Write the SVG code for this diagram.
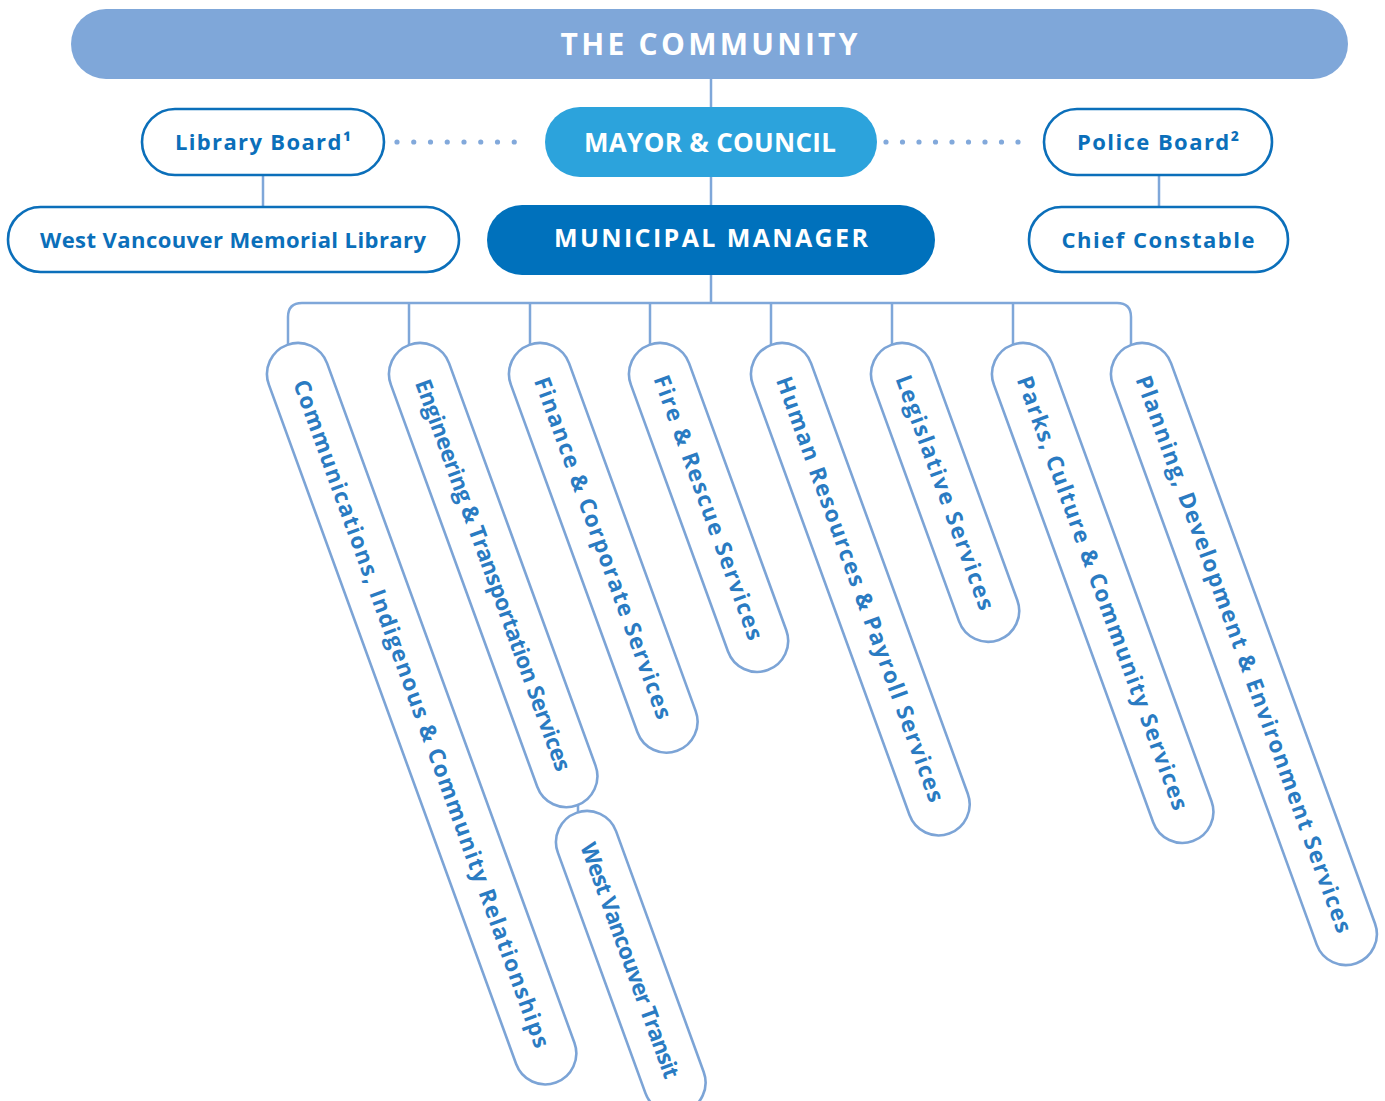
<svg xmlns="http://www.w3.org/2000/svg" width="1385" height="1101" viewBox="0 0 1385 1101">
<style>
  .bg { fill: #ffffff; }
  .conn { fill: none; stroke: #7fa7d9; stroke-width: 2.5; }
  .dots { fill: none; stroke: #82a9db; stroke-width: 5.2; stroke-linecap: round; }
  .outline { fill: #ffffff; stroke: #0b6fba; stroke-width: 2.6; }
  .outtxt { fill: #0b6fba; font-family: "Open Sans", "DejaVu Sans", sans-serif; font-weight: 700; font-size: 22px; text-anchor: middle; }
  .filltxt { fill: #ffffff; font-family: "Open Sans", "DejaVu Sans", sans-serif; font-weight: 700; text-anchor: middle; }
  .pill { fill: #ffffff; stroke: #7ca4d6; stroke-width: 2.6; }
  .ptxt { fill: #2a7bc2; font-family: "Open Sans", "DejaVu Sans", sans-serif; font-weight: 700; font-size: 22.5px; text-anchor: middle; }
</style>
<rect class="bg" x="0" y="0" width="1385" height="1101"/>

<g id="connectors">
  <path class="conn" d="M711,79 V303"/>
  <path class="conn" d="M288,345 V317 Q288,303 302,303 H1117 Q1131,303 1131,317 V345"/>
  <path class="conn" d="M409,303 V345 M530,303 V345 M650,303 V345 M771,303 V345 M892,303 V345 M1013,303 V345"/>
  <path class="conn" d="M263,176 V207"/>
  <path class="conn" d="M1159,176 V207"/>
  <path class="conn" d="M578,804 V813"/>
  <line class="dots" x1="397" y1="142" x2="531" y2="142" stroke-dasharray="0 16.75"/>
  <line class="dots" x1="886" y1="142" x2="1034.5" y2="142" stroke-dasharray="0 16.5"/>
</g>

<g id="community">
  <rect x="71" y="9" width="1277" height="70" rx="35" fill="#7fa7d9"/>
  <text class="filltxt" x="709" y="55" font-size="30" textLength="297">THE COMMUNITY</text>
</g>

<g id="mayor-council">
  <rect x="545" y="107" width="332" height="70" rx="35" fill="#2ca3dc"/>
  <text class="filltxt" x="710" y="152" font-size="26" textLength="252">MAYOR &amp; COUNCIL</text>
</g>

<g id="municipal-manager">
  <rect x="487" y="205" width="448" height="70" rx="35" fill="#0071bc"/>
  <text class="filltxt" x="711" y="247" font-size="25" textLength="314">MUNICIPAL MANAGER</text>
</g>

<g id="library-board">
  <rect class="outline" x="142" y="109" width="242" height="66" rx="33"/>
  <text class="outtxt" x="263" y="150" textLength="176">Library Board¹</text>
</g>

<g id="memorial-library">
  <rect class="outline" x="8" y="207" width="451" height="65" rx="32.5"/>
  <text class="outtxt" x="233" y="248" textLength="386">West Vancouver Memorial Library</text>
</g>

<g id="police-board">
  <rect class="outline" x="1044" y="109" width="228" height="66" rx="33"/>
  <text class="outtxt" x="1158" y="150" textLength="162">Police Board²</text>
</g>

<g id="chief-constable">
  <rect class="outline" x="1029" y="207" width="259" height="65" rx="32.5"/>
  <text class="outtxt" x="1158" y="248" textLength="193">Chief Constable</text>
</g>

<g id="communications" transform="translate(298,374) rotate(-20)">
  <rect class="pill" x="-31" y="-31" width="62" height="785" rx="31"/>
  <text class="ptxt" transform="rotate(90)" x="361.5" y="8" textLength="709">Communications, Indigenous &amp; Community Relationships</text>
</g>

<g id="engineering" transform="translate(420,374) rotate(-20)">
  <rect class="pill" x="-31" y="-31" width="62" height="490" rx="31"/>
  <text class="ptxt" transform="rotate(90)" x="214" y="8" textLength="415">Engineering &amp; Transportation Services</text>
</g>

<g id="finance" transform="translate(540,374) rotate(-20)">
  <rect class="pill" x="-31" y="-31" width="62" height="432" rx="31"/>
  <text class="ptxt" transform="rotate(90)" x="185" y="8" textLength="362">Finance &amp; Corporate Services</text>
</g>

<g id="fire-rescue" transform="translate(660,374) rotate(-20)">
  <rect class="pill" x="-31" y="-31" width="62" height="346" rx="31"/>
  <text class="ptxt" transform="rotate(90)" x="142" y="8" textLength="280">Fire &amp; Rescue Services</text>
</g>

<g id="human-resources" transform="translate(782,374) rotate(-20)">
  <rect class="pill" x="-31" y="-31" width="62" height="520" rx="31"/>
  <text class="ptxt" transform="rotate(90)" x="229" y="8" textLength="451">Human Resources &amp; Payroll Services</text>
</g>

<g id="legislative" transform="translate(902,374) rotate(-20)">
  <rect class="pill" x="-31" y="-31" width="62" height="314" rx="31"/>
  <text class="ptxt" transform="rotate(90)" x="126" y="8" textLength="248">Legislative Services</text>
</g>

<g id="parks-culture" transform="translate(1023,374) rotate(-20)">
  <rect class="pill" x="-31" y="-31" width="62" height="528" rx="31"/>
  <text class="ptxt" transform="rotate(90)" x="233" y="8" textLength="460">Parks, Culture &amp; Community Services</text>
</g>

<g id="planning" transform="translate(1142,374) rotate(-20)">
  <rect class="pill" x="-31" y="-31" width="62" height="658" rx="31"/>
  <text class="ptxt" transform="rotate(90)" x="298" y="8" textLength="591">Planning, Development &amp; Environment Services</text>
</g>

<g id="west-vancouver-transit" transform="translate(587,842) rotate(-20)">
  <rect class="pill" x="-31" y="-31" width="62" height="318" rx="31"/>
  <text class="ptxt" transform="rotate(90)" x="126" y="8" textLength="249">West Vancouver Transit</text>
</g>
</svg>
